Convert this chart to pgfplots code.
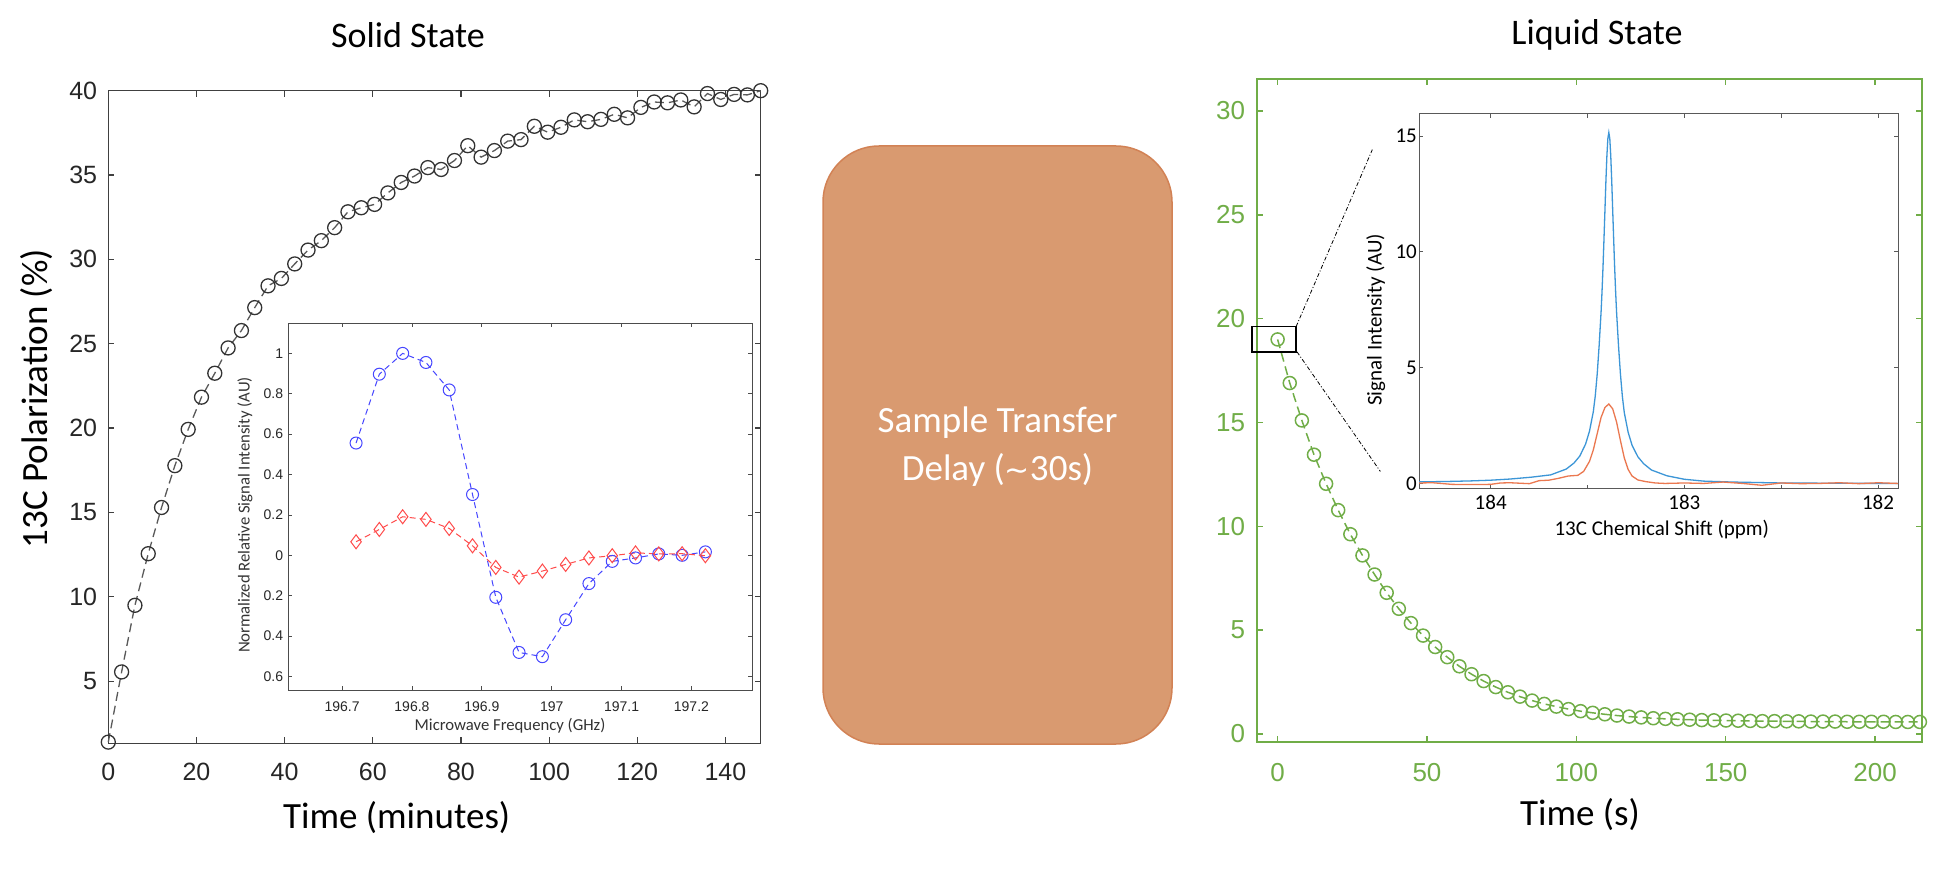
\documentclass[border=0pt]{standalone}
\usepackage{fontspec}
\setmainfont{Carlito}
\newfontfamily\arialf{Liberation Sans}
\newfontfamily\dejavu{DejaVu Sans}
\usepackage{pgfplots}
\pgfplotsset{compat=1.18}
\definecolor{mgray}{RGB}{38,38,38}
\definecolor{agreen}{RGB}{112,173,71}
\definecolor{boxfill}{RGB}{217,154,112}
\definecolor{boxedge}{RGB}{210,130,85}
\definecolor{iblue}{RGB}{70,70,255}
\definecolor{ired}{RGB}{255,75,75}
\definecolor{sblue}{RGB}{60,150,215}
\definecolor{sorange}{RGB}{235,120,80}
\begin{document}
\begin{tikzpicture}[x=1pt,y=1pt]
\path[use as bounding box] (0,0) rectangle (1955,887);

% ---------------- Left main axis ----------------
\begin{axis}[
  at={(108.3pt,143.7pt)}, anchor=south west,
  scale only axis, width=652.4pt, height=652.6pt,
  xmin=0, xmax=148, ymin=1.31, ymax=40,
  xtick={0,20,...,140}, ytick={5,10,...,40},
  tick align=inside, major tick length=6pt,
  axis line style={draw=black!75, line width=1.3pt},
  tick style={draw=black!75, line width=1.1pt},
  clip=false,
  /pgf/number format/assume math mode=true,
  ticklabel style={font=\arialf\fontsize{25}{30}\selectfont, text=mgray},
  yticklabel style={inner sep=0pt, anchor=east, xshift=-11pt},
  xticklabel style={inner sep=0pt, anchor=north, yshift=-20pt},
  xlabel={Time (minutes)}, ylabel={13C Polarization (\%)},
  label style={font=\fontsize{37}{44}\selectfont, text=black},
  xlabel style={at={(axis description cs:0.442,-0.1145)}, anchor=center},
  ylabel style={at={(axis description cs:-0.11,0.528)}, anchor=center},
]
\addplot[color=black!65, line width=1.3pt, dash pattern=on 9pt off 5pt,
  mark=o, mark size=7pt, mark options={solid, draw=black!80, line width=1.3pt}]
coordinates {
(0,1.38) (3.02,5.54) (6.04,9.49) (9.06,12.55) (12.08,15.29) (15.10,17.77)
(18.12,19.92) (21.14,21.83) (24.16,23.25) (27.18,24.75) (30.20,25.78)
(33.22,27.14) (36.24,28.43) (39.27,28.87) (42.29,29.73) (45.31,30.55)
(48.33,31.11) (51.35,31.88) (54.37,32.82) (57.39,33.06) (60.41,33.26)
(63.43,33.94) (66.45,34.56) (69.47,34.94) (72.49,35.44) (75.51,35.33)
(78.53,35.86) (81.55,36.74) (84.57,36.06) (87.59,36.45) (90.61,37.01)
(93.63,37.10) (96.65,37.89) (99.67,37.54) (102.69,37.83) (105.71,38.27)
(108.73,38.16) (111.76,38.30) (114.78,38.60) (117.80,38.39) (120.82,39.01)
(123.84,39.33) (126.86,39.28) (129.88,39.45) (132.90,39.04) (135.92,39.83)
(138.94,39.48) (141.96,39.78) (144.98,39.75) (148.00,40.00)
};
\end{axis}

% ---------------- Left inset ----------------
\begin{axis}[
  at={(288.3pt,197pt)}, anchor=south west,
  scale only axis, width=463.9pt, height=366.5pt,
  xmin=196.623, xmax=197.287, ymin=-0.667, ymax=1.148,
  xtick={196.7,196.8,196.9,197,197.1,197.2},
  xticklabels={196.7,196.8,196.9,197,197.1,197.2},
  ytick={-0.6,-0.4,-0.2,0,0.2,0.4,0.6,0.8,1},
  yticklabels={0.6,0.4,0.2,0,0.2,0.4,0.6,0.8,1},
  axis background/.style={fill=white},
  tick align=inside, major tick length=4pt,
  axis line style={draw=black!70, line width=1pt},
  tick style={draw=black!70, line width=0.8pt},
  clip=false,
  ticklabel style={font=\arialf\fontsize{14}{17}\selectfont, text=mgray},
  yticklabel style={inner sep=0pt, anchor=east, xshift=-5pt},
  xticklabel style={inner sep=0pt, anchor=north, yshift=-12pt},
  xlabel={Microwave Frequency (GHz)},
  ylabel={Normalized Relative Signal Intensity (AU)},
  label style={font=\fontsize{16.7}{20}\selectfont, text=black!80},
  xlabel style={at={(axis description cs:0.478,-0.098)}, anchor=center},
  ylabel style={at={(axis description cs:-0.0933,0.4775)}, anchor=center},
]
\addplot[color=iblue, line width=1pt, dash pattern=on 6pt off 4pt,
  mark=o, mark size=6pt, mark options={solid, line width=1pt}]
coordinates {
(196.72,0.556) (196.7533,0.897) (196.7867,1.0) (196.82,0.955) (196.8533,0.819)
(196.8867,0.301) (196.92,-0.208) (196.9533,-0.481) (196.9867,-0.502)
(197.02,-0.319) (197.0533,-0.140) (197.0867,-0.030) (197.12,-0.013)
(197.1533,0.007) (197.1867,0.0) (197.22,0.017)
};
\addplot[color=ired, line width=1pt, dash pattern=on 6pt off 4pt,
  mark=diamond, mark size=7pt, mark options={solid, line width=1pt}]
coordinates {
(196.72,0.067) (196.7533,0.128) (196.7867,0.191) (196.82,0.178) (196.8533,0.133)
(196.8867,0.047) (196.92,-0.060) (196.9533,-0.108) (196.9867,-0.078)
(197.02,-0.045) (197.0533,-0.013) (197.0867,-0.002) (197.12,0.012)
(197.1533,0.007) (197.1867,0.008) (197.22,-0.002)
};
\end{axis}

% ---------------- Middle box ----------------
\draw[fill=boxfill, draw=boxedge, line width=1.5pt, rounded corners=56pt]
  (823,143) rectangle (1172,741);
\node[text=white, font=\fontsize{37}{48}\selectfont, align=center]
  at (997.5,440) {Sample Transfer\\Delay ({\dejavu\fontsize{30}{36}\selectfont ∼}30s)};

% ---------------- Right main axis ----------------
\begin{axis}[
  at={(1257.3pt,145.3pt)}, anchor=south west,
  scale only axis, width=664.4pt, height=662.7pt,
  xmin=-6.8, xmax=215.6, ymin=-0.37, ymax=31.54,
  xtick={0,50,...,200}, ytick={0,5,...,30},
  tick align=inside, major tick length=6pt,
  axis line style={draw=agreen, line width=2pt},
  tick style={draw=agreen, line width=1.5pt},
  clip=false,
  /pgf/number format/assume math mode=true,
  ticklabel style={font=\arialf\fontsize{26}{30}\selectfont, text=agreen},
  yticklabel style={inner sep=0pt, anchor=east, xshift=-12pt},
  xticklabel style={inner sep=0pt, anchor=north, yshift=-21.5pt},
  xlabel={Time (s)},
  label style={font=\fontsize{37}{44}\selectfont, text=black},
  xlabel style={at={(axis description cs:0.4857,-0.1106)}, anchor=center},
]
\addplot[color=agreen, line width=1.5pt, dash pattern=on 9pt off 5pt,
  mark=o, mark size=6.5pt, mark options={solid, line width=1.5pt}]
coordinates {
(0,19.0) (4.06,16.9) (8.11,15.1) (12.17,13.45) (16.23,12.05) (20.28,10.78)
(24.34,9.62) (28.40,8.6) (32.45,7.68) (36.51,6.8) (40.57,6.03) (44.62,5.34)
(48.68,4.74) (52.74,4.19) (56.79,3.7) (60.85,3.26) (64.91,2.88) (68.96,2.55)
(73.02,2.26) (77.08,2.01) (81.13,1.8) (85.19,1.61) (89.25,1.45) (93.30,1.32)
(97.36,1.2) (101.42,1.1) (105.47,1.02) (109.53,0.95) (113.58,0.89)
(117.64,0.84) (121.70,0.8) (125.75,0.76) (129.81,0.73) (133.87,0.71)
(137.92,0.69) (141.98,0.67) (146.04,0.66) (150.09,0.65) (154.15,0.64)
(158.21,0.63) (162.26,0.62) (166.32,0.62) (170.38,0.61) (174.43,0.61)
(178.49,0.6) (182.55,0.6) (186.60,0.6) (190.66,0.59) (194.72,0.59)
(198.77,0.59) (202.83,0.59) (206.89,0.58) (210.94,0.58) (215.00,0.58)
};
\draw[black, line width=1.6pt] (axis cs:-8.6,18.4) rectangle (axis cs:6.2,19.62);
\draw[black, line width=0.8pt, dash pattern=on 4pt off 2pt on 1pt off 2pt]
  (axis cs:6.2,19.62) -- (axis cs:31.7,28.14);
\draw[black, line width=0.8pt, dash pattern=on 4pt off 2pt on 1pt off 2pt]
  (axis cs:6.5,18.4) -- (axis cs:34.4,12.64);
\end{axis}

% ---------------- Right inset ----------------
\begin{axis}[
  at={(1419pt,398pt)}, anchor=south west,
  scale only axis, width=479pt, height=375pt,
  x dir=reverse,
  xmin=181.897, xmax=184.37, ymin=-0.24, ymax=15.95,
  xtick={182,182.5,183,183.5,184}, xticklabels={182,,183,,184},
  ytick={0,5,10,15},
  axis background/.style={fill=white},
  tick align=inside, major tick length=4pt,
  axis line style={draw=black!65, line width=1pt},
  tick style={draw=black!65, line width=0.8pt},
  /pgf/number format/assume math mode=true,
  ticklabel style={font=\fontsize{21}{25}\selectfont, text=black},
  yticklabel style={inner sep=0pt, anchor=east, xshift=-2pt},
  xticklabel style={inner sep=0pt, anchor=north, yshift=-6pt},
  xlabel={13C Chemical Shift (ppm)}, ylabel={Signal Intensity (AU)},
  label style={font=\fontsize{21}{25}\selectfont, text=black},
  xlabel style={at={(axis description cs:0.507,-0.109)}, anchor=center},
  ylabel style={at={(axis description cs:-0.0904,0.4507)}, anchor=center},
]
\addplot[color=sblue, line width=1.3pt] coordinates {
(184.37,0.07) (184.25,0.08) (184.10,0.11) (184.00,0.14) (183.90,0.19)
(183.79,0.27) (183.69,0.37) (183.61,0.62) (183.57,0.88) (183.54,1.18)
(183.51,1.70) (183.49,2.25) (183.47,3.10) (183.46,3.78) (183.45,4.72)
(183.44,5.95) (183.43,7.40) (183.425,8.30) (183.42,9.35) (183.415,10.55)
(183.41,11.80) (183.405,13.06) (183.40,14.14) (183.395,14.89) (183.39,15.15)
(183.385,14.89) (183.38,14.14) (183.375,13.06) (183.37,11.80) (183.365,10.55)
(183.36,9.35) (183.355,8.30) (183.35,7.40) (183.34,5.95) (183.33,4.72)
(183.32,3.75) (183.31,3.05) (183.29,2.20) (183.27,1.65) (183.24,1.15)
(183.21,0.85) (183.17,0.58) (183.09,0.33) (183.00,0.18) (182.90,0.10)
(182.75,0.06) (182.50,0.02) (182.25,0.01) (182.00,0.00) (181.897,0.00)
};
\addplot[color=sorange, line width=1.3pt] coordinates {
(184.37,0.02) (184.30,0.03) (184.20,-0.04) (184.10,-0.05) (184.00,-0.04)
(183.95,0.02) (183.90,0.03) (183.85,0.01) (183.80,-0.01) (183.75,0.12)
(183.70,0.14) (183.65,0.22) (183.60,0.32) (183.55,0.35) (183.52,0.52)
(183.49,0.95) (183.47,1.45) (183.45,2.15) (183.43,2.85) (183.41,3.28)
(183.39,3.43) (183.37,3.22) (183.35,2.65) (183.33,1.85) (183.31,1.10)
(183.29,0.60) (183.27,0.32) (183.24,0.15) (183.20,0.08) (183.15,0.02)
(183.10,0.00) (183.00,0.02) (182.90,0.00) (182.80,0.06) (182.70,0.00)
(182.60,-0.08) (182.55,-0.03) (182.50,0.02) (182.40,-0.01) (182.30,0.00)
(182.20,0.03) (182.10,-0.01) (182.00,0.03) (181.897,0.00)
};
\end{axis}

% ---------------- Titles ----------------
\node[font=\fontsize{36}{43}\selectfont] at (408,852) {Solid State};
\node[font=\fontsize{36}{43}\selectfont] at (1597,852) {Liquid State};
\end{tikzpicture}
\end{document}
